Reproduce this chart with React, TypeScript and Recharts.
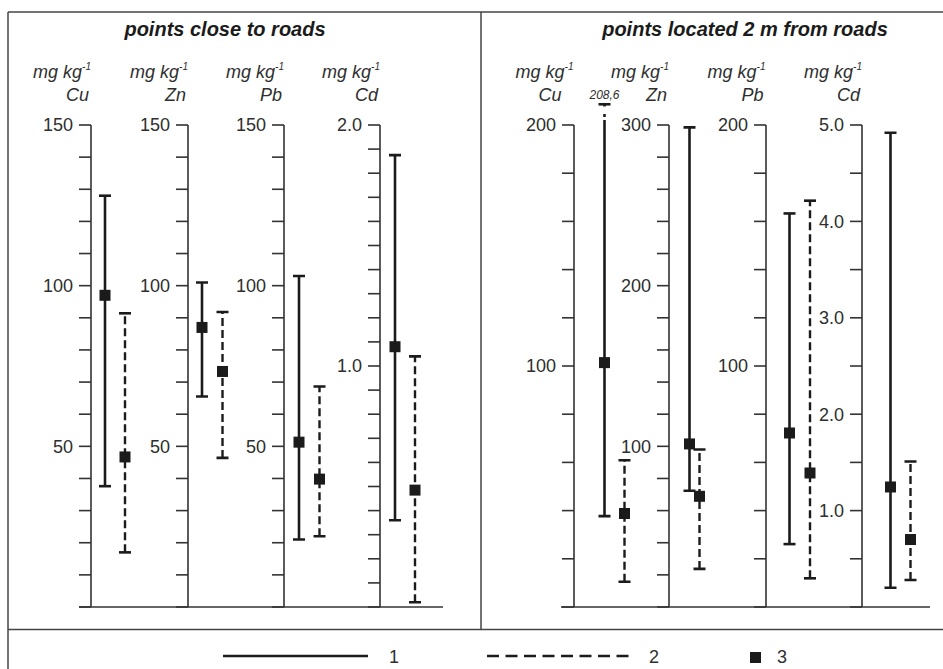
import React from "react";
import { ComposedChart, Scatter, XAxis, YAxis, ErrorBar, ReferenceLine, ReferenceDot } from "recharts";

// ---------- DATA ----------
const panelTitles = ["points close to roads", "points located 2 m from roads"];
const elements = ["Cu", "Zn", "Pb", "Cd"];
const unitLabel = "mg kg";
const unitSup = "-1";

// points close to roads (series 1 = solid, series 2 = dashed)
const closeSolidMean = [97, 87, 51.3, 1.08];
const closeSolidLow = [37.6, 65.5, 21, 0.36];
const closeSolidHigh = [128, 101, 103, 1.875];
const closeDashedMean = [46.7, 73.3, 39.8, 0.485];
const closeDashedLow = [17, 46.4, 22, 0.02];
const closeDashedHigh = [91.4, 91.8, 68.6, 1.04];

// points located 2 m from roads
const farSolidMean = [101.4, 101.5, 72.2, 1.245];
const farSolidLow = [37.7, 72.4, 26.1, 0.2];
const farSolidHigh = [208.6, 298.5, 163.3, 4.92];
const farDashedMean = [38.8, 68.9, 55.6, 0.7];
const farDashedLow = [10.5, 23.7, 11.9, 0.28];
const farDashedHigh = [60.9, 98, 168.6, 1.51];

// axes
const closeMax = [150, 150, 150, 2.0];
const closeStep = [10, 10, 10, 0.1];
const closeLabels = [[50, 100, 150], [50, 100, 150], [50, 100, 150], [1.0, 2.0]];
const closeDecimals = [0, 0, 0, 1];
const farMax = [200, 300, 200, 5.0];
const farStep = [20, 20, 20, 0.5];
const farLabels = [[100, 200], [100, 200, 300], [100, 200], [1, 2, 3, 4, 5]];
const farDecimals = [0, 0, 0, 1];

const legendLabels = ["1", "2", "3"];

// ---------- LAYOUT ----------
const closeAxisX = [91, 188, 284, 380];
const closeSolidOffset = [14, 14, 15, 15];
const closeGap = [20, 20.5, 20.5, 20];
const farAxisX = [573.5, 669, 765.5, 862];
const farSolidOffset = [30.5, 20.5, 23.5, 28.5];
const farGap = [20, 10, 20.5, 20];
const farUnitShift = [10, 0, 0, 0];

const PLOT_TOP = 125;
const PLOT_BOTTOM = 607;
const MT = 45;
const MB = 5;
const YW = 70;
const PR = 14;
const FONT = "'Liberation Sans', Arial, Helvetica, sans-serif";
const INK = "#1b1b1b";
const AXIS = "#333";
const TEXT = "#2e2e2e";

type Stat = { mean: number; low: number; high: number };

const Square = (props: any) => {
  const { cx, cy } = props;
  if (cx == null || cy == null) return null;
  return <rect x={cx - 5.5} y={cy - 5.5} width={11} height={11} fill={INK} />;
};

const Cap = (props: any) => {
  const { cx, cy } = props;
  if (cx == null || cy == null) return null;
  return <line x1={cx - 6} x2={cx + 6} y1={cy} y2={cy} stroke={INK} strokeWidth={2.6} />;
};

function MiniChart(p: {
  axisX: number; sOff: number; gap: number; max: number; step: number;
  labels: number[]; dec: number; solid: Stat; dashed: Stat;
}) {
  const { axisX, sOff, gap, max, step, labels, dec, solid, dashed } = p;
  const ticks: number[] = [];
  const n = Math.round(max / step);
  for (let i = 0; i <= n; i++) ticks.push(+(i * step).toFixed(4));
  const plotW = sOff + gap + PR;
  const width = YW + plotW;
  const height = MT + (PLOT_BOTTOM - PLOT_TOP) + MB;
  const solidRow = { kind: 1, ...solid, err: [solid.mean - solid.low, solid.high - solid.mean] };
  const dashedRow = { kind: 2, ...dashed, err: [dashed.mean - dashed.low, dashed.high - dashed.mean] };
  const fmt = (v: number) => (labels.some((l) => Math.abs(l - v) < 1e-6) ? v.toFixed(dec) : "");
  const over = solid.high > max ? solid.high : null;
  return (
    <div style={{ position: "absolute", left: axisX - YW, top: PLOT_TOP - MT }}>
      <ComposedChart width={width} height={height} margin={{ top: MT, right: 0, bottom: MB, left: 0 }}>
        <XAxis type="number" dataKey="kind" domain={[1, 2]} padding={{ left: sOff, right: PR }} hide />
        <YAxis
          type="number"
          domain={[0, max]}
          ticks={ticks}
          interval={0}
          allowDataOverflow
          width={YW}
          tickSize={12}
          tickMargin={6}
          tickFormatter={fmt}
          axisLine={{ stroke: AXIS, strokeWidth: 1.6 }}
          tickLine={{ stroke: AXIS, strokeWidth: 1.6 }}
          tick={{ fontSize: 18, fill: TEXT, fontFamily: FONT }}
        />
        <Scatter data={[solidRow]} dataKey="mean" isAnimationActive={false} shape={Square}>
          <ErrorBar dataKey="err" direction="y" width={0} stroke={INK} strokeWidth={2.6} />
        </Scatter>
        <Scatter data={[dashedRow]} dataKey="mean" isAnimationActive={false} shape={Square}>
          <ErrorBar dataKey="err" direction="y" width={0} stroke={INK} strokeWidth={2.4} strokeDasharray="8 4" />
        </Scatter>
        <Scatter data={[solidRow, dashedRow]} dataKey="low" isAnimationActive={false} shape={Cap} />
        <Scatter data={[solidRow, dashedRow]} dataKey="high" isAnimationActive={false} shape={Cap} />
        {over != null && (
          <ReferenceLine
            segment={[{ x: 1, y: max }, { x: 1, y: over }]}
            ifOverflow="visible"
            stroke="#ffffff"
            strokeWidth={5}
            strokeDasharray="0 5 3 3 7.5 100"
          />
        )}
        {over != null && (
          <ReferenceDot
            x={1}
            y={over}
            ifOverflow="visible"
            shape={(sp: any) => (
              <g>
                <line x1={sp.cx - 6} x2={sp.cx + 6} y1={sp.cy} y2={sp.cy} stroke={INK} strokeWidth={2.6} />
                <text x={sp.cx} y={sp.cy - 5} textAnchor="middle" fontSize={12} fontStyle="italic" fill={TEXT} fontFamily={FONT}>
                  {String(over).replace(".", ",")}
                </text>
              </g>
            )}
          />
        )}
      </ComposedChart>
    </div>
  );
}

function stat(m: number[], l: number[], h: number[], i: number): Stat {
  return { mean: m[i], low: l[i], high: h[i] };
}

export default function App() {
  return (
    <div style={{ position: "absolute", left: 0, top: 0, width: 943, height: 669, background: "#fff", fontFamily: FONT, overflow: "hidden" }}>
      <svg width={943} height={669} style={{ position: "absolute", left: 0, top: 0 }}>
        {/* frame */}
        <line x1={8} x2={943} y1={12} y2={12} stroke="#444" strokeWidth={1.5} />
        <line x1={8} x2={8} y1={12} y2={669} stroke="#444" strokeWidth={1.5} />
        <line x1={481} x2={481} y1={12} y2={630} stroke="#444" strokeWidth={1.5} />
        <line x1={8} x2={943} y1={629.5} y2={629.5} stroke="#444" strokeWidth={1.5} />
        {/* baselines */}
        <line x1={79} x2={443} y1={607} y2={607} stroke={AXIS} strokeWidth={1.6} />
        <line x1={561} x2={930} y1={607} y2={607} stroke={AXIS} strokeWidth={1.6} />
        {/* titles */}
        <text x={225} y={36} textAnchor="middle" fontSize={20} fontWeight="bold" fontStyle="italic" fill={INK}>{panelTitles[0]}</text>
        <text x={745} y={36} textAnchor="middle" fontSize={20} fontWeight="bold" fontStyle="italic" fill={INK}>{panelTitles[1]}</text>
        {/* unit labels */}
        {elements.map((el, i) => (
          <g key={"c" + el}>
            <text x={closeAxisX[i]} y={78} textAnchor="end" fontSize={18} fontStyle="italic" fill={TEXT}>
              {unitLabel}<tspan dy={-8} fontSize={10}>{unitSup}</tspan>
            </text>
            <text x={closeAxisX[i] - 2} y={101} textAnchor="end" fontSize={18} fontStyle="italic" fill={TEXT}>{el}</text>
          </g>
        ))}
        {elements.map((el, i) => (
          <g key={"f" + el}>
            <text x={farAxisX[i]} y={78} textAnchor="end" fontSize={18} fontStyle="italic" fill={TEXT}>
              {unitLabel}<tspan dy={-8} fontSize={10}>{unitSup}</tspan>
            </text>
            <text x={farAxisX[i] - 2 - farUnitShift[i]} y={101} textAnchor="end" fontSize={18} fontStyle="italic" fill={TEXT}>{el}</text>
          </g>
        ))}
        {/* legend */}
        <line x1={223} x2={368} y1={656} y2={656} stroke={INK} strokeWidth={2.6} />
        <text x={389} y={663} fontSize={18} fill={TEXT}>{legendLabels[0]}</text>
        <line x1={487} x2={630} y1={656} y2={656} stroke={INK} strokeWidth={2.6} strokeDasharray="12 6.5" />
        <text x={649} y={663} fontSize={18} fill={TEXT}>{legendLabels[1]}</text>
        <rect x={750} y={652} width={11} height={11} fill={INK} />
        <text x={777} y={663} fontSize={18} fill={TEXT}>{legendLabels[2]}</text>
      </svg>
      {elements.map((el, i) => (
        <MiniChart
          key={"close" + el}
          axisX={closeAxisX[i]}
          sOff={closeSolidOffset[i]}
          gap={closeGap[i]}
          max={closeMax[i]}
          step={closeStep[i]}
          labels={closeLabels[i]}
          dec={closeDecimals[i]}
          solid={stat(closeSolidMean, closeSolidLow, closeSolidHigh, i)}
          dashed={stat(closeDashedMean, closeDashedLow, closeDashedHigh, i)}
        />
      ))}
      {elements.map((el, i) => (
        <MiniChart
          key={"far" + el}
          axisX={farAxisX[i]}
          sOff={farSolidOffset[i]}
          gap={farGap[i]}
          max={farMax[i]}
          step={farStep[i]}
          labels={farLabels[i]}
          dec={farDecimals[i]}
          solid={stat(farSolidMean, farSolidLow, farSolidHigh, i)}
          dashed={stat(farDashedMean, farDashedLow, farDashedHigh, i)}
        />
      ))}
    </div>
  );
}
